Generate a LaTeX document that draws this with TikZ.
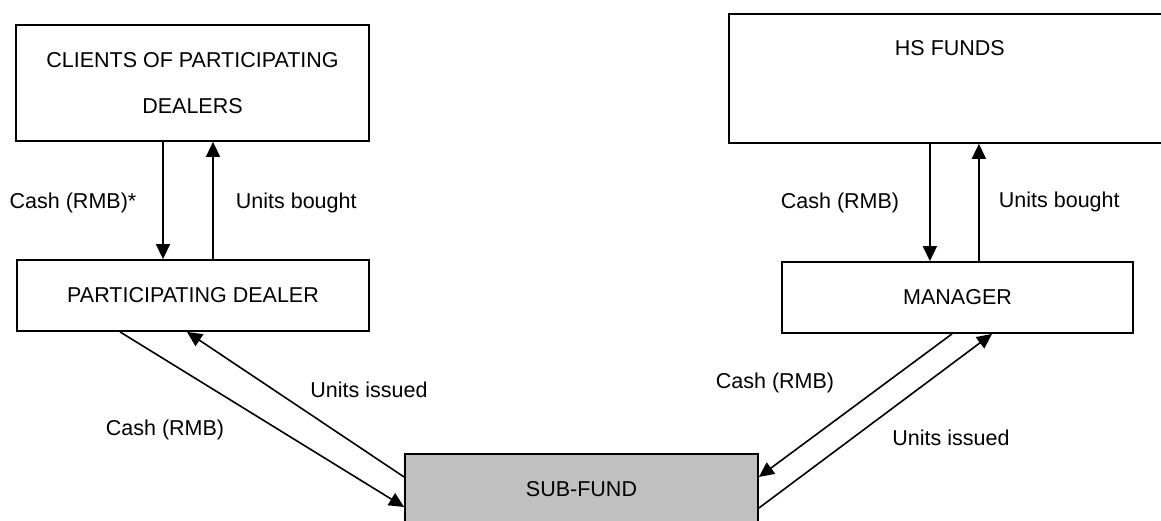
\documentclass[tikz,border=0pt]{standalone}
\usepackage{fontspec}
\setmainfont{Liberation Sans}
\usetikzlibrary{arrows.meta}

\begin{document}
\begin{tikzpicture}[x=1pt, y=-1pt, line width=1.8pt,
    box/.style = {rectangle, draw, inner sep=0pt, text centered,
      font=\fontsize{21.5}{46}\selectfont},
    flow/.style = {-{Triangle[length=15pt, width=14pt]}, line width=1.6pt},
    lbl/.style = {inner sep=0pt, text height=15pt, text depth=4pt,
      font=\fontsize{21.5}{25}\selectfont}]
  \useasboundingbox (0, 0) rectangle (1161, 521);
  % boxes
  \node[box, minimum width=353pt, minimum height=116pt, align=center]
    (clients) at (192.5, 83) {CLIENTS OF PARTICIPATING\\DEALERS};
  \node[box, minimum width=352pt, minimum height=71pt]
    (dealer) at (193, 295.5) {PARTICIPATING DEALER};
  \node[box, anchor=north west, minimum width=442pt, text height=42pt,
    text depth=87pt] (hsfunds) at (728, 13) {HS FUNDS};
  \node[box, minimum width=351pt, minimum height=71pt]
    (manager) at (957.5, 297.5) {MANAGER};
  \node[box, fill={rgb,255:red,192;green,192;blue,192}, minimum width=353pt,
    minimum height=70pt] (subfund) at (581.5, 489) {SUB-FUND};
  % flows between clients and dealer
  \draw[flow] ([xshift=-29.5pt]clients.south)
    -- ([xshift=-29.5pt]clients.south |- dealer.north);
  \draw[flow] ([xshift=20.5pt]clients.south |- dealer.north)
    -- ([xshift=20.5pt]clients.south);
  % flows between hs funds and manager
  \draw[flow] ([xshift=-20pt]hsfunds.south)
    -- ([xshift=-20pt]hsfunds.south |- manager.north);
  \draw[flow] ([xshift=29pt]hsfunds.south |- manager.north)
    -- ([xshift=29pt]hsfunds.south);
  % flows to and from the sub-fund
  \draw[flow] ([xshift=-73pt]dealer.south) -- ([yshift=-18pt]subfund.west);
  \draw[flow] ([yshift=12pt]subfund.west) -- ([xshift=-6pt]dealer.south);
  \draw[flow] ([xshift=-5.5pt]manager.south) -- ([yshift=12pt]subfund.east);
  \draw[flow] ([yshift=-19pt]subfund.east) -- ([xshift=34.5pt]manager.south);
  % labels
  \node[lbl] (cashclients) at (73, 203) {Cash (RMB)*};
  \node[lbl, anchor=west] (boughtclients) at (235, 203) {Units bought};
  \node[lbl] (cashhs) at (840, 203) {Cash (RMB)};
  \node[lbl, anchor=west] (boughths) at (998, 202) {Units bought};
  \node[lbl] (issueddealer) at (369, 392) {Units issued};
  \node[lbl] (cashdealer) at (165, 430) {Cash (RMB)};
  \node[lbl] (cashmanager) at (775, 383) {Cash (RMB)};
  \node[lbl] (issuedmanager) at (951, 440) {Units issued};
\end{tikzpicture}
\end{document}
